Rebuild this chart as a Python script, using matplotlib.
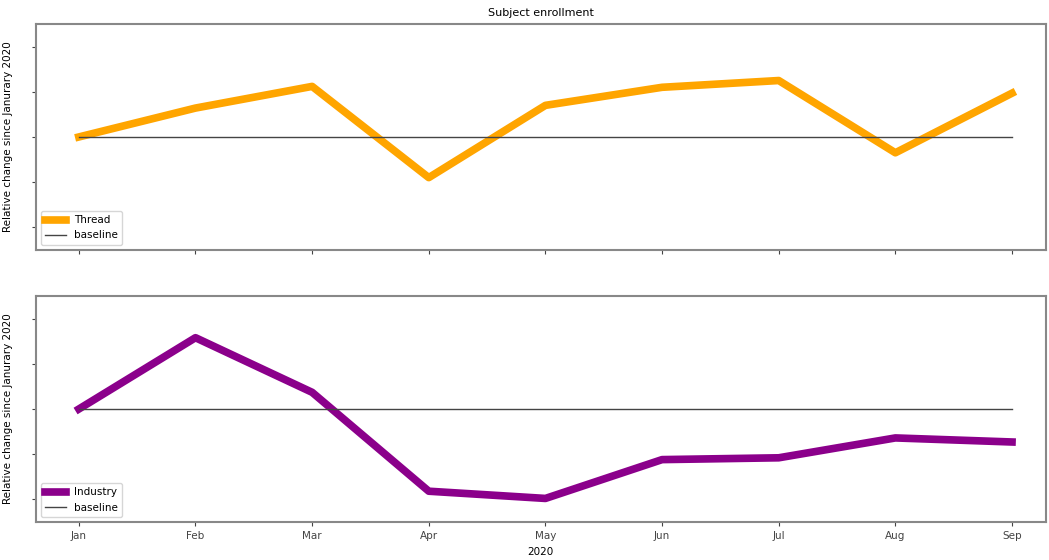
import matplotlib.pyplot as plt
import numpy as np

months = ['Jan', 'Feb', 'Mar', 'Apr', 'May', 'Jun', 'Jul', 'Aug', 'Sep']
thread = [0.0, 0.064, 0.112, -0.090, 0.070, 0.110, 0.125, -0.035, 0.097]
industry = [0.0, 0.158, 0.037, -0.182, -0.198, -0.112, -0.108, -0.064, -0.073]
baseline = [0.0] * len(months)

plt.rcParams['font.size'] = 7.5
plt.rcParams['font.family'] = 'DejaVu Sans'

fig, (ax1, ax2) = plt.subplots(2, 1, figsize=(10.49, 5.6), dpi=100, sharex=True)
fig.subplots_adjust(left=0.034, right=0.997, top=0.957, bottom=0.068, hspace=0.205)

x = np.arange(len(months))
ylabel = 'Relative change since Janurary 2020'

for ax, vals, name, col in [(ax1, thread, 'Thread', 'orange'),
                            (ax2, industry, 'Industry', 'darkmagenta')]:
    ax.plot(x, vals, color=col, linewidth=5.5, label=name)
    ax.plot(x, baseline, color='#444444', linewidth=1, label='baseline')
    ax.set_ylim(-0.25, 0.25)
    ax.set_yticks([-0.2, -0.1, 0.0, 0.1, 0.2])
    ax.set_yticklabels([])
    ax.set_ylabel(ylabel, fontsize=7.5, labelpad=10)
    ax.legend(loc='lower left', fontsize=7.5)
    for s in ax.spines.values():
        s.set_color('#888888')
        s.set_linewidth(1.5)
    ax.tick_params(colors='#444444', length=3)

ax2.set_xlim(-0.37, 8.29)
ax2.set_xticks(x)
ax2.set_xticklabels(months)
ax1.tick_params(labelbottom=False)
ax1.set_title('Subject enrollment', fontsize=8)
ax2.set_xlabel('2020', fontsize=7.5)

plt.savefig('out.png')
